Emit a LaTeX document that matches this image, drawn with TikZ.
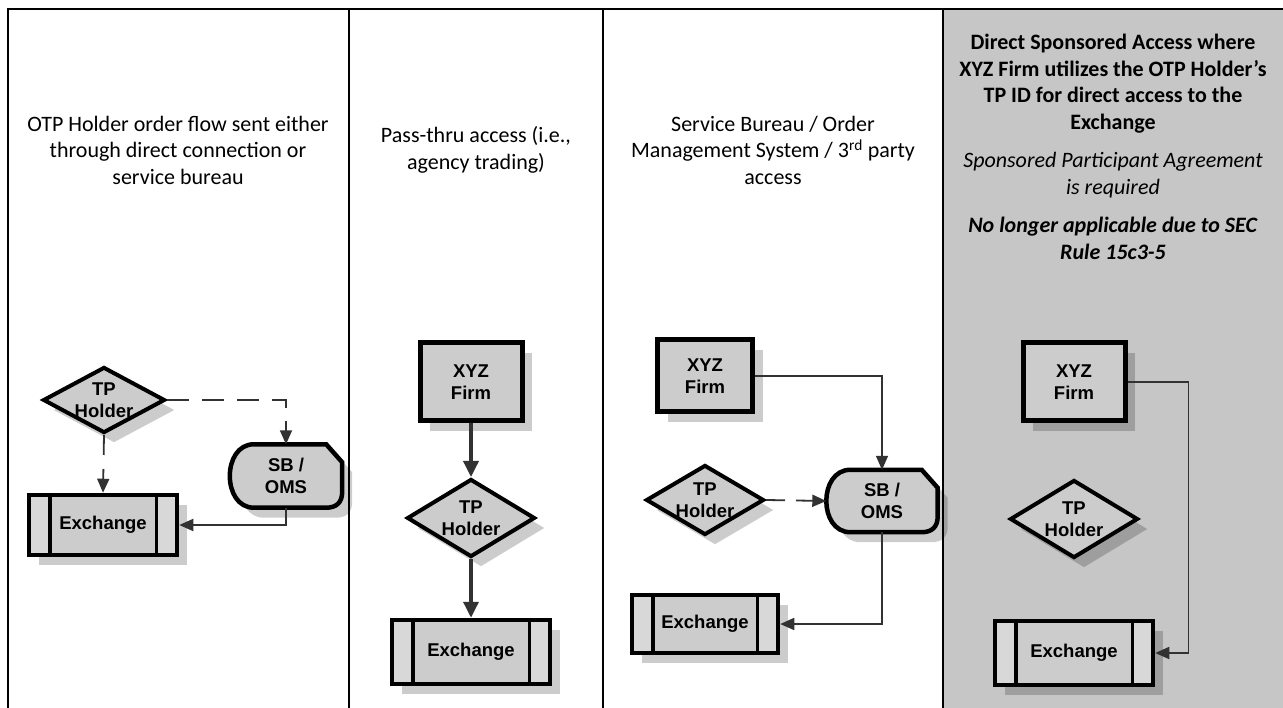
\documentclass[tikz,border=0pt]{standalone}
\usepackage{fontspec}
\setmainfont{Carlito}
\newfontfamily\boxfont{Liberation Sans}
\usepackage{tikz}
\usetikzlibrary{
    arrows.meta,
    shapes.geometric,
    shadows
}
\definecolor{boxgray}{RGB}{204,204,204}
\definecolor{sidegray}{RGB}{216,216,216}
\definecolor{panelgray}{RGB}{198,198,198}
\definecolor{linegray}{RGB}{50,50,50}

\newcommand{\sboutline}[1]{%
  ([xshift=24pt]#1.north west) -- ([xshift=-16pt]#1.north east)
  -- ([yshift=-18pt]#1.north east) -- ([yshift=16pt]#1.south east)
  .. controls ([yshift=5pt]#1.south east) and ([xshift=-6pt]#1.south east) .. ([xshift=-16pt]#1.south east)
  -- ([xshift=24pt]#1.south west)
  .. controls ([xshift=-8pt]#1.south west) and ([xshift=-8pt]#1.north west) .. ([xshift=24pt]#1.north west)
  -- cycle}

\begin{document}
\begin{tikzpicture}[x=1pt, y=-1pt,
    >={Triangle[length=14pt, width=12pt]},
    title/.style={align=center, font=\fontsize{22}{26.5}\selectfont},
    boxtext/.style={align=center, font=\boxfont\bfseries\fontsize{18.5}{22}\selectfont},
    shade/.style={drop shadow={shadow xshift=10pt, shadow yshift=-10pt, fill=black, opacity=0.2}},
    firmbox/.style={rectangle, draw, line width=5pt, fill=boxgray, shade, boxtext,
        minimum width=102pt, minimum height=78pt},
    tpbox/.style={diamond, draw, line width=4pt, fill=boxgray, shade, inner sep=0pt,
        minimum width=128pt, minimum height=78pt, label={[boxtext]center:{TP\\Holder}}},
    exbox/.style={rectangle, draw, line width=4.5pt, fill=sidegray, shade, boxtext,
        minimum width=158pt, minimum height=64pt},
    sbbox/.style={boxtext, inner sep=0pt, minimum width=112pt, minimum height=63pt},
    flow/.style={->, draw=linegray, line width=1.8pt},
    dashflow/.style={flow, dash pattern=on 22pt off 13pt},
    thickflow/.style={->, draw=linegray, line width=3.5pt, >={Triangle[length=16pt, width=15pt]}}
]
\useasboundingbox (0,0) rectangle (1283,708);
\fill[white] (0,0) rectangle (1283,708);
\fill[panelgray] (943,9) rectangle (1283,708);
\draw[line width=2.5pt] (1283,9) -- (8,9) -- (8,708);
\foreach \x in {349,603,943}
    \draw[line width=2.5pt] (\x,9) -- (\x,708);

\node[title] (head1) at (178,150) {OTP Holder order flow sent either\\through direct connection or\\service bureau};
\node[title] (head2) at (476,150) {Pass-thru access (i.e.,\\agency trading)};
\node[title] (head3) at (773,150) {Service Bureau / Order\\Management System / 3\textsuperscript{rd} party\\access};
\node[title] (head4) at (1113,147) {\textbf{Direct Sponsored Access where}\\\textbf{XYZ Firm utilizes the OTP Holder’s}\\
    \textbf{TP ID for direct access to the}\\\textbf{Exchange}\\[12pt]
    \textit{Sponsored Participant Agreement}\\\textit{is required}\\[12pt]
    \textbf{\textit{No longer applicable due to SEC}}\\\textbf{\textit{Rule 15c3-5}}};

% direct or service bureau
\node[tpbox, minimum width=122pt, minimum height=66pt] (tp1) at (104,400) {};
\node[sbbox] (sb1) at (286,476) {};
\node[exbox, minimum width=148pt, minimum height=60pt] (ex1) at (103,525) {};

% pass-thru
\node[firmbox] (xyz2) at (471,382) {XYZ\\Firm};
\node[tpbox] (tp2) at (471,518) {};
\node[exbox] (ex2) at (471,652) {};

% service bureau / OMS
\node[firmbox, minimum width=95pt, minimum height=72pt] (xyz3) at (705,376) {XYZ\\Firm};
\node[tpbox, minimum width=118pt, minimum height=70pt] (tp3) at (705,500) {};
\node[sbbox, minimum width=111pt, minimum height=62pt] (sb3) at (882,501) {};
\node[exbox, minimum width=146pt, minimum height=58pt] (ex3) at (705,624) {};

% sponsored access
\node[firmbox] (xyz4) at (1074,382) {XYZ\\Firm};
\node[tpbox] (tp4) at (1074,519) {};
\node[exbox] (ex4) at (1074,653) {};

\foreach \e in {ex1,ex2,ex3,ex4} {
    \fill[boxgray] ([xshift=23pt, yshift=-4.5pt]\e.north west) rectangle ([xshift=-23pt, yshift=4.5pt]\e.south east);
    \draw[line width=3.5pt] ([xshift=23pt]\e.north west) -- ([xshift=23pt]\e.south west)
        ([xshift=-23pt]\e.north east) -- ([xshift=-23pt]\e.south east);
    \node[boxtext] at (\e) {Exchange};
}

\foreach \s in {sb1,sb3} {
    \begin{scope}[transform canvas={xshift=10pt, yshift=-10pt}]
        \fill[black, opacity=0.2] \sboutline{\s};
    \end{scope}
    \draw[line width=4.5pt, fill=boxgray] \sboutline{\s};
    \node[boxtext] at (\s) {SB /\\OMS};
}

\draw[dashflow] (tp1.east) -| (sb1.north);
\draw[dashflow, dash pattern=on 20pt off 14pt] (tp1.south) -- (ex1.north);
\draw[flow] (sb1.south) |- (ex1.east);

\draw[thickflow] (xyz2) -- (tp2);
\draw[thickflow] (tp2) -- (ex2);

\draw[flow, line width=1.5pt] (xyz3.east) -| (sb3.north);
\draw[dashflow, dash pattern=on 19pt off 11pt] (tp3.east) -- (sb3.west);
\draw[flow, line width=1.5pt] (sb3.south) |- (ex3.east);

\draw[flow] (xyz4.east) -- ++(61,0) |- (ex4.east);
\end{tikzpicture}
\end{document}
